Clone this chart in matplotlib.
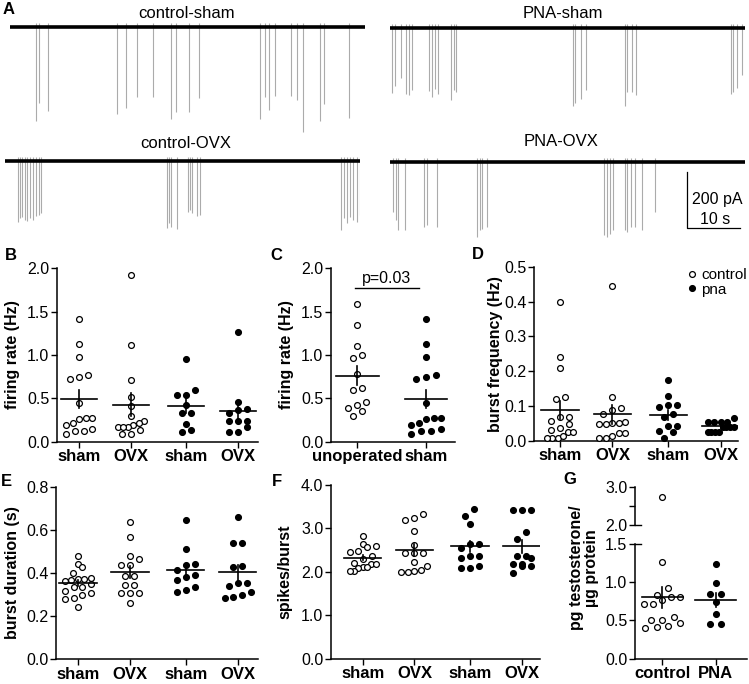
import numpy as np
import matplotlib
matplotlib.use('Agg')
import matplotlib.pyplot as plt

plt.rcParams['font.family'] = ['Liberation Sans', 'DejaVu Sans']

W, H = 749, 684

# ---- panel A: spike times (s) and amplitudes (pA) of the four example traces
ctrl_sham_t = [5.0, 5.5, 7.1, 20.2, 21.8, 24.0, 27.0, 30.3, 31.3, 33.8, 35.7, 47.2, 48.2,
               48.8, 50.1, 53.0, 54.2, 55.3, 58.6, 59.2, 64.0]
ctrl_sham_a = [335, 270, 300, 310, 290, 250, 250, 330, 305, 305, 255, 330, 250, 295,
               245, 245, 260, 375, 335, 275, 325]
pna_sham_t = [0.3, 0.9, 2.1, 3.0, 3.6, 4.2, 7.4, 7.9, 8.4, 9.0, 11.6, 12.1, 12.5, 34.5,
              34.9, 36.0, 37.0, 44.3, 44.8, 45.6, 46.4, 64.3, 64.8, 65.4, 66.4]
pna_sham_a = [232, 207, 179, 236, 239, 221, 225, 246, 218, 236, 257, 221, 229, 278, 268,
              253, 221, 278, 229, 229, 239, 236, 229, 214, 168]
ctrl_ovx_t = [2.5, 2.8, 3.3, 3.8, 4.2, 4.7, 5.3, 5.8, 6.4, 6.7, 30.5, 30.9, 31.4, 32.5,
              34.5, 34.9, 35.3, 36.2, 36.8, 63.5, 64.0, 64.5, 65.1, 65.7, 66.4, 67.0]
ctrl_ovx_a = [218, 204, 200, 211, 214, 204, 211, 196, 193, 186, 239, 221, 236, 243, 182,
              175, 186, 196, 193, 246, 204, 221, 200, 211, 218, 193]
pna_ovx_t = [0.6, 1.1, 1.6, 2.8, 6.5, 7.0, 8.9, 16.5, 16.9, 17.3, 18.4, 40.4, 40.9, 41.5,
             42.1, 44.3, 44.8, 45.5, 46.2, 47.5, 50.0]
pna_ovx_a = [179, 207, 243, 243, 232, 225, 232, 268, 243, 239, 232, 261, 268, 257, 243,
             243, 250, 232, 232, 243, 179]
trace_len = 67

# ---- panel B: firing rate (Hz)
fr_ctrl_sham = [1.42, 1.13, 0.98, 0.77, 0.72, 0.75, 0.45, 0.27, 0.26, 0.27, 0.22, 0.15,
                0.19, 0.09, 0.12, 0.12]
fr_ctrl_ovx = [1.92, 1.12, 0.71, 0.51, 0.41, 0.30, 0.24, 0.21, 0.19, 0.17, 0.17, 0.17,
               0.13, 0.085, 0.085]
fr_pna_sham = [0.95, 0.54, 0.54, 0.60, 0.42, 0.33, 0.33, 0.20, 0.11, 0.13]
fr_pna_ovx = [1.26, 0.46, 0.38, 0.37, 0.33, 0.24, 0.24, 0.24, 0.17, 0.11, 0.11]

# ---- panel C: firing rate, unoperated vs sham
fr_unoperated = [1.59, 1.345, 1.10, 0.97, 1.0, 0.78, 0.60, 0.62, 0.42, 0.39, 0.46, 0.30, 0.35]
p_text = 'p=0.03'

# ---- panel D: burst frequency (Hz)
bf_ctrl_sham = [0.40, 0.24, 0.21, 0.125, 0.12, 0.069, 0.069, 0.057, 0.047, 0.036, 0.024,
                0.026, 0.031, 0.009, 0.007, 0.007, 0.014]
bf_ctrl_ovx = [0.445, 0.125, 0.093, 0.087, 0.076, 0.05, 0.047, 0.047, 0.05, 0.053, 0.021,
               0.014, 0.007, 0.007, 0.021]
bf_pna_sham = [0.175, 0.129, 0.103, 0.096, 0.103, 0.069, 0.076, 0.043, 0.043, 0.026,
               0.028, 0.007]
bf_pna_ovx = [0.065, 0.053, 0.053, 0.053, 0.053, 0.04, 0.04, 0.04, 0.04, 0.026, 0.026,
              0.026, 0.026]

# ---- panel E: burst duration (s)
bd_ctrl_sham = [0.478, 0.44, 0.43, 0.40, 0.377, 0.374, 0.374, 0.363, 0.366, 0.347, 0.335,
                0.335, 0.309, 0.315, 0.30, 0.284, 0.278, 0.243]
bd_ctrl_ovx = [0.635, 0.569, 0.477, 0.463, 0.438, 0.438, 0.385, 0.385, 0.343, 0.343, 0.305,
               0.305, 0.305, 0.263]
bd_pna_sham = [0.646, 0.512, 0.443, 0.438, 0.412, 0.389, 0.381, 0.369, 0.335, 0.32, 0.312]
bd_pna_ovx = [0.658, 0.538, 0.538, 0.432, 0.43, 0.353, 0.353, 0.338, 0.30, 0.286, 0.29, 0.312]

# ---- panel F: spikes per burst
sb_ctrl_sham = [2.83, 2.65, 2.60, 2.58, 2.49, 2.45, 2.36, 2.30, 2.20, 2.17, 2.17, 2.12,
                2.12, 2.09, 2.03, 2.03]
sb_ctrl_ovx = [3.34, 3.25, 3.19, 2.94, 2.62, 2.43, 2.43, 2.43, 2.22, 2.14, 2.03, 1.99,
               1.99, 2.05]
sb_pna_sham = [3.44, 3.29, 3.10, 2.64, 2.64, 2.56, 2.37, 2.33, 2.37, 2.14, 2.09, 2.09]
sb_pna_ovx = [3.42, 3.42, 3.42, 2.91, 2.75, 2.36, 2.36, 2.33, 2.18, 2.18, 2.14, 2.14, 1.98]

# ---- panel G: pg testosterone / ug protein
te_control = [2.72, 1.27, 0.92, 0.81, 0.81, 0.83, 0.77, 0.72, 0.72, 0.505, 0.47, 0.51,
              0.55, 0.40, 0.42, 0.43]
te_pna = [1.24, 0.99, 0.84, 0.84, 0.74, 0.59, 0.45, 0.45]

op_labels = ['sham', 'OVX', 'sham', 'OVX']
POS = [0, 1, 2.07, 3.07]

TICK_FS = 11.5
XLAB_FS = 12
YLAB_FS = 11.5
MS = 4.2

fig = plt.figure(figsize=(W / 100, H / 100), dpi=100)


def px_axes(l, t, r, b):
    ax = fig.add_axes([l / W, 1 - b / H, (r - l) / W, (b - t) / H])
    ax.patch.set_visible(False)
    return ax


def ftext(x, y, s, **kw):
    fig.text(x / W, 1 - y / H, s, **kw)


def ylab(x, y, s):
    ftext(x, y, s, rotation=90, ha='center', va='center', fontsize=YLAB_FS,
          fontweight='bold', multialignment='center', linespacing=1.0)


# ---------------- panel A
PA_PX = 200 / 56.0


def trace(l, base, title, tx, ty, times, amps):
    ax = px_axes(l, base - 60 / PA_PX, l + 355, base + 420 / PA_PX)
    ax.set_xlim(0, trace_len)
    ax.set_ylim(-420, 60)
    ax.axis('off')
    ax.vlines(times, 15, -np.array(amps), color='#ababab', lw=0.8)
    ax.plot([0, trace_len], [0, 0], color='k', lw=2.6, solid_capstyle='butt')
    ftext(tx, ty, title, ha='center', va='center', fontsize=12)
    return ax


trace(10, 27, 'control-sham', 187, 14, ctrl_sham_t, ctrl_sham_a)
trace(390, 28, 'PNA-sham', 563, 14, pna_sham_t, pna_sham_a)
trace(5, 161, 'control-OVX', 186, 143, ctrl_ovx_t, ctrl_ovx_a)
ax_s = trace(390, 162, 'PNA-OVX', 561, 141, pna_ovx_t, pna_ovx_a)
# scale bar 10 s / 200 pA
ax_s.plot([56, 56, 66], [-37, -237, -237], color='k', lw=0.9)
ax_s.text(57.0, -135, '200 pA', ha='left', va='center', fontsize=11.5)
ax_s.text(61.3, -205, '10 s', ha='center', va='center', fontsize=11.5)


# ---------------- dot plots
def swarm(ax, x0, vals, step=9.0, max_w=26.0, row_h=7.0):
    # GraphPad-like scatter: close values share a row, rows are centred
    tr = ax.transData
    vals = np.asarray(vals, float)
    cx = tr.transform((x0, 0))[0]
    pys = tr.transform(np.column_stack([np.full(len(vals), x0), vals]))[:, 1]
    order = np.argsort(vals)
    rows, cur = [], [order[0]]
    for i in order[1:]:
        if pys[i] - pys[cur[0]] < row_h:
            cur.append(i)
        else:
            rows.append(cur)
            cur = [i]
    rows.append(cur)
    out = np.zeros(len(vals))
    for row in rows:
        n = len(row)
        s = step if n < 2 else min(step, max_w / (n - 1))
        for k, i in enumerate(row):
            px = cx + (k - (n - 1) / 2) * s
            out[i] = tr.inverted().transform((px, pys[i]))[0]
    return out


def style(ax, yticks):
    for s in ['top', 'right']:
        ax.spines[s].set_visible(False)
    for s in ['left', 'bottom']:
        ax.spines[s].set_linewidth(1.1)
    ax.set_yticks(yticks)
    ax.set_yticklabels(['%.1f' % v for v in yticks])
    ax.tick_params(direction='out', length=4, width=1.0, labelsize=TICK_FS, pad=1.5)


def dots(ax, x, vals, filled, hw, draw=True, vis=None, step=9.0, max_w=26.0):
    vis = vals if vis is None else vis
    xs = swarm(ax, x, vis, step, max_w)
    ax.plot(xs, vis, 'o', ms=MS, mew=0.9, mec='k', mfc='k' if filled else 'w',
            clip_on=False, zorder=3)
    if draw:
        m = np.mean(vals)
        se = np.std(vals, ddof=1) / np.sqrt(len(vals))
        ax.plot([x - hw, x + hw], [m, m], color='k', lw=1.2, zorder=4)
        ax.plot([x, x], [m - se, m + se], color='k', lw=1.2, zorder=4)


def panel(box, xlim, ylim, yticks, groups, pos, labels, hw):
    ax = px_axes(*box)
    ax.set_xlim(xlim)
    ax.set_ylim(ylim)
    style(ax, yticks)
    for vals, x, filled in zip(groups, pos, [False, False, True, True][:len(groups)]):
        dots(ax, x, vals, filled, hw)
    ax.set_xticks(pos)
    ax.set_xticklabels(labels, fontweight='bold', fontsize=XLAB_FS)
    return ax


# B
panel((57, 268.3, 258, 441.7), (-0.43, 3.46), (0, 2.0), [0, 0.5, 1.0, 1.5, 2.0],
      [fr_ctrl_sham, fr_ctrl_ovx, fr_pna_sham, fr_pna_ovx], POS, op_labels, 0.35)
ylab(13, 355, 'firing rate (Hz)')

# C
axc = px_axes(331, 268.3, 455, 441.7)
axc.set_xlim(-0.38, 1.42)
axc.set_ylim(0, 2.0)
style(axc, [0, 0.5, 1.0, 1.5, 2.0])
dots(axc, 0, fr_unoperated, False, 0.31)
dots(axc, 1, fr_ctrl_sham, True, 0.31, step=10.0, max_w=30.0)
axc.set_xticks([0, 1])
axc.set_xticklabels(['unoperated', 'sham'], fontweight='bold', fontsize=XLAB_FS)
axc.plot([-0.03, 0.9], [1.77, 1.77], color='k', lw=1.0, clip_on=False)
axc.text(0.43, 1.80, p_text, ha='center', va='bottom', fontsize=11.5)
ylab(286, 355, 'firing rate (Hz)')

# D
axd = panel((534, 267, 738, 440.7), (-0.5, 3.4), (0, 0.5), [0, 0.1, 0.2, 0.3, 0.4, 0.5],
            [bf_ctrl_sham, bf_ctrl_ovx, bf_pna_sham, bf_pna_ovx], POS, op_labels, 0.36)
ylab(496, 354, 'burst frequency (Hz)')
h1, = axd.plot([], [], 'o', ms=MS, mew=0.9, mec='k', mfc='w', label='control')
h2, = axd.plot([], [], 'o', ms=MS, mew=0.9, mec='k', mfc='k', label='pna')
axd.legend(handles=[h1, h2], loc='upper left', frameon=False, fontsize=11,
           bbox_to_anchor=((688 - 534) / 204, (440.7 - 268) / 173.7),
           handlelength=0.5, handletextpad=0.35, labelspacing=0.05, borderpad=0,
           borderaxespad=0)

# E
panel((56, 486.7, 258, 659.3), (-0.42, 3.46), (0, 0.8), [0, 0.2, 0.4, 0.6, 0.8],
      [bd_ctrl_sham, bd_ctrl_ovx, bd_pna_sham, bd_pna_ovx], POS, op_labels, 0.36)
ylab(13, 573, 'burst duration (s)')

# F
panel((331, 485, 540, 658.7), (-0.61, 3.42), (0, 4.0), [0, 1.0, 2.0, 3.0, 4.0],
      [sb_ctrl_sham, sb_ctrl_ovx, sb_pna_sham, sb_pna_ovx], POS, op_labels, 0.36)
ylab(285, 572, 'spikes/burst')

# G (broken axis)
gl = px_axes(635, 544, 746.7, 658.7)
gu = px_axes(635, 486.7, 746.7, 525)
gl.set_xlim(-0.51, 1.58)
gu.set_xlim(-0.51, 1.58)
gl.set_ylim(0, 1.5)
gu.set_ylim(2.0, 3.0)
style(gl, [0, 0.5, 1.0, 1.5])
style(gu, [2.0, 2.5, 3.0])
gu.set_yticklabels(['2.0', '', '3.0'])
gu.spines['bottom'].set_visible(False)
gu.set_xticks([])
for vals, x, filled in [(te_control, 0, False), (te_pna, 1, True)]:
    v = np.asarray(vals)
    dots(gl, x, v, filled, 0.38, vis=v[v <= 1.5], step=11.5, max_w=36.0)
    if (v > 1.5).any():
        dots(gu, x, v, filled, 0.38, draw=False, vis=v[v > 1.5])
gl.plot([-0.51, -0.40], [1.5, 1.5], color='k', lw=1.0, clip_on=False)
gu.plot([-0.51, -0.40], [2.0, 2.0], color='k', lw=1.0, clip_on=False)
gl.set_xticks([0, 1])
gl.set_xticklabels(['control', 'PNA'], fontweight='bold', fontsize=XLAB_FS)
ylab(584, 568, 'pg testosterone/\n\u00b5g protein')

# panel letters
for s, x, y in [('A', 3, 10), ('B', 5, 256), ('C', 270, 256), ('D', 472, 255),
                ('E', 1, 482), ('F', 272, 482), ('G', 563, 479)]:
    ftext(x, y, s, ha='left', va='center', fontsize=12, fontweight='bold')

fig.savefig('out.png', dpi=100)
